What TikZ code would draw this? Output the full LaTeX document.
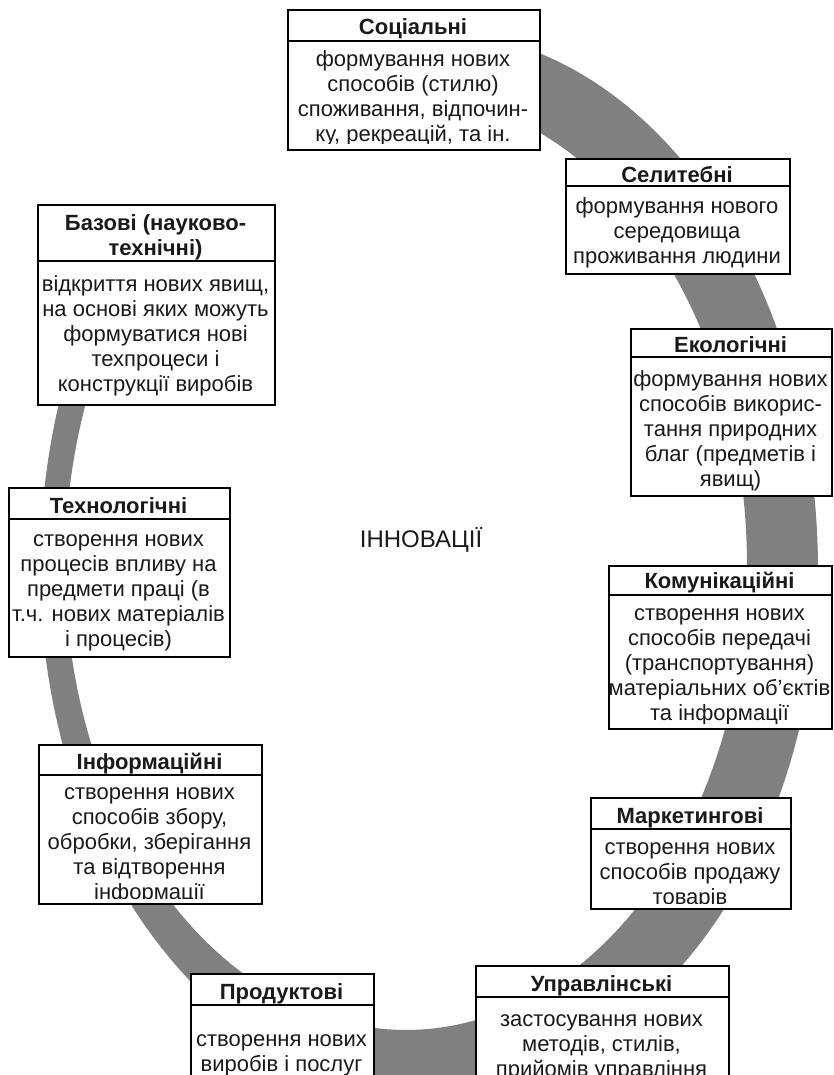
\documentclass[tikz,border=0pt]{standalone}
\usepackage{fontspec}
\setmainfont{Liberation Sans}
\definecolor{ringgray}{HTML}{808080}
\definecolor{ink}{HTML}{1A1A1A}
\tikzset{
  frame/.style={draw=black, line width=1.8pt, fill=white, inner sep=0pt, anchor=north west},
  sepline/.style={draw=black, line width=1.8pt},
  hdr/.style={font=\fontsize{22}{25}\selectfont\bfseries, text=ink, align=center, inner sep=0pt, anchor=north},
  bodyt/.style={font=\fontsize{22}{25}\selectfont, text=ink, align=center, inner sep=0pt, anchor=north},
  titlet/.style={font=\fontsize{24}{27}\selectfont, text=ink, inner sep=0pt, anchor=base},
}
% name, x1, x2, top, header bottom, bottom, header baseline, header text
\newcommand\innbox[8]{%
  \node[frame, minimum width={#3pt-#2pt}, minimum height={#6pt-#4pt}] (#1) at (#2,#4) {};
  \draw[sepline] (#2,#5) -- (#3,#5);
  \node[hdr] (#1h) at ({(#2+#3)/2},#4) {\rule{0pt}{\dimexpr#7pt-#4pt\relax}#8};
  \gdef\ibXa{#2}\gdef\ibXb{#3}\gdef\ibHb{#5}\gdef\ibBot{#6}%
}
% name, first baseline, text
\newcommand\innbody[3]{%
  \begin{scope}
    \clip (\ibXa,\ibHb) rectangle (\ibXb,\ibBot-5);
    \node[bodyt] (#1b) at ({(\ibXa+\ibXb)/2},\ibHb) {\rule{0pt}{\dimexpr#2pt-\ibHb pt\relax}#3};
  \end{scope}
}
\begin{document}
\begin{tikzpicture}[x=1pt,y=-1pt]
\useasboundingbox (0,0) rectangle (833,1075);
\fill[white] (0,0) rectangle (833,1075);

% ring (open arc, ends hidden under boxes)
\fill[ringgray]
  plot[domain=0:290, samples=160] ({429+389*cos(80-\x)},{569-sin(80-\x)*(sin(80-\x)>0?538:522)})
  -- plot[domain=0:290, samples=160] ({406+341*cos(-210+\x)},{565-sin(-210+\x)*(sin(-210+\x)>0?470:465)})
  -- cycle;

\node[titlet] (title) at (421,547) {ІННОВАЦІЇ};

\innbox{soc}{287}{539}{9}{41}{149}{34}{Соціальні}
\innbody{soc}{66}{формування нових\\способів (стилю)\\споживання, відпочин-\\ку, рекреацій, та ін.}

\innbox{sel}{565}{789}{158}{186}{273}{182}{Селитебні}
\innbody{sel}{213}{формування нового\\середовища\\проживання людини}

\innbox{eco}{630}{831}{328}{357}{495}{352}{Екологічні}
\innbody{eco}{386}{формування нових\\способів викорис-\\тання природних\\благ (предметів і\\явищ)}

\innbox{kom}{608}{831}{565}{595}{728}{588}{Комунікаційні}
\innbody{kom}{620}{створення нових\\способів передачі\\(транспортування)\\матеріальних об’єктів\\та інформації}

\innbox{mar}{590}{790}{797}{829}{908}{823}{Маркетингові}
\innbody{mar}{854}{створення нових\\способів продажу\\товарів}

\innbox{upr}{475}{728}{965}{997}{1110}{991}{Управлінські}
\innbody{upr}{1026}{застосування нових\\методів, стилів,\\прийомів управління}

\innbox{pro}{190}{373}{973}{1005}{1110}{999}{Продуктові}
\innbody{pro}{1046}{створення нових\\виробів і послуг}

\innbox{inf}{38}{261}{744}{775}{903}{769}{Інформаційні}
\innbody{inf}{799}{створення нових\\способів збору,\\обробки, зберігання\\та відтворення\\інформації}

\innbox{tex}{8}{229}{487}{519}{656}{513}{Технологічні}
\innbody{tex}{546}{створення нових\\процесів впливу на\\предмети праці (в\\т.ч. нових матеріалів\\і процесів)}

\innbox{baz}{37}{274}{204}{261}{404}{230}{Базові (науково-\\технічні)}
\innbody{baz}{291}{відкриття нових явищ,\\на основі яких можуть\\формуватися нові\\техпроцеси і\\конструкції виробів}
\end{tikzpicture}
\end{document}
